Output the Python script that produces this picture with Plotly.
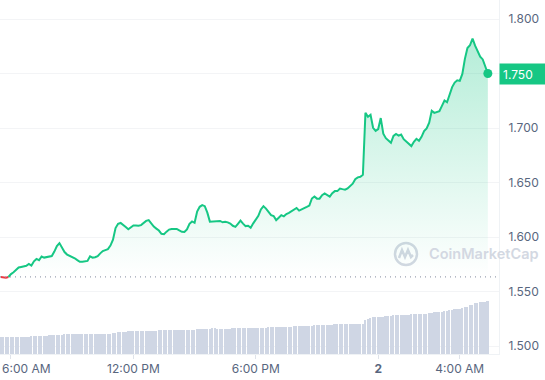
import pandas as pd
import plotly.graph_objects as go

# ---------------- data ----------------
start_time = "2024-03-01 05:30:00"
interval = "450s"  # 7.5-minute samples

price = [
    1.5633, 1.5628, 1.5626, 1.5633, 1.5660, 1.5676, 1.5694, 1.5720, 1.5725, 1.5729,
    1.5736, 1.5753, 1.5738, 1.5777, 1.5799, 1.5787, 1.5821, 1.5811, 1.5817, 1.5821,
    1.5825, 1.5866, 1.5917, 1.5944, 1.5903, 1.5862, 1.5839, 1.5828, 1.5819, 1.5805,
    1.5788, 1.5772, 1.5772, 1.5774, 1.5781, 1.5823, 1.5811, 1.5815, 1.5825, 1.5850,
    1.5871, 1.5880, 1.5889, 1.5921, 1.5976, 1.6082, 1.6121, 1.6129, 1.6114, 1.6091,
    1.6071, 1.6086, 1.6106, 1.6105, 1.6103, 1.6109, 1.6128, 1.6148, 1.6155, 1.6125,
    1.6095, 1.6077, 1.6059, 1.6029, 1.6025, 1.6049, 1.6068, 1.6074, 1.6074, 1.6074,
    1.6060, 1.6048, 1.6046, 1.6070, 1.6121, 1.6143, 1.6130, 1.6233, 1.6277, 1.6292,
    1.6283, 1.6223, 1.6141, 1.6144, 1.6144, 1.6148, 1.6147, 1.6135, 1.6140, 1.6134,
    1.6123, 1.6103, 1.6093, 1.6121, 1.6150, 1.6123, 1.6100, 1.6103, 1.6084, 1.6125,
    1.6159, 1.6194, 1.6253, 1.6283, 1.6260, 1.6233, 1.6201, 1.6193, 1.6155, 1.6177,
    1.6201, 1.6190, 1.6211, 1.6221, 1.6235, 1.6251, 1.6266, 1.6242, 1.6251, 1.6266,
    1.6276, 1.6288, 1.6353, 1.6371, 1.6352, 1.6352, 1.6384, 1.6399, 1.6386, 1.6370,
    1.6402, 1.6421, 1.6421, 1.6445, 1.6439, 1.6434, 1.6446, 1.6465, 1.6489, 1.6530,
    1.6547, 1.6553, 1.6571, 1.7139, 1.7103, 1.7121, 1.7002, 1.6974, 1.6990, 1.7091,
    1.6947, 1.6907, 1.6883, 1.6864, 1.6927, 1.6945, 1.6930, 1.6940, 1.6897, 1.6878,
    1.6858, 1.6834, 1.6874, 1.6901, 1.6883, 1.6919, 1.6972, 1.6997, 1.7048, 1.7158,
    1.7139, 1.7147, 1.7155, 1.7203, 1.7252, 1.7236, 1.7313, 1.7375, 1.7417, 1.7438,
    1.7432, 1.7496, 1.7634, 1.7734, 1.7759, 1.7821, 1.7755, 1.7701, 1.7654, 1.7629,
    1.7570, 1.7500,
]

volume = [
    17, 17, 17, 17, 17, 17, 17, 17, 17, 17, 17, 17,
    18, 18, 18, 18, 18, 18, 18,
    19, 19, 19, 19, 19, 19,
    20, 20, 20, 20, 20, 20, 20, 20, 20, 20, 20, 20, 20, 20, 20, 20, 20, 20, 20,
    21, 21,
    22, 22, 22, 22,
    23, 23, 23, 23, 23, 23, 23, 23, 23, 23, 23, 23,
    24, 24, 24, 24, 24, 24, 24, 24, 24, 24, 24, 24, 24, 24, 24,
    25, 25, 25, 25, 25, 25,
    26, 26,
    25, 25, 25, 25, 25, 25,
    26, 26, 26, 26, 26, 26, 26, 26, 26, 26, 26, 26, 26, 26,
    27, 27, 27, 27, 27, 27, 27, 27, 27, 27,
    28, 28, 28, 28, 28, 28, 28, 28,
    29, 29, 29, 29, 29, 29, 29, 29,
    30, 30, 30, 30, 30, 30, 30, 30, 30, 30, 30, 30,
    34, 35, 36,
    37, 37, 37, 37, 37,
    38, 38, 38,
    39, 39, 39, 39, 39, 39, 39,
    40, 40, 40, 40, 40, 40, 40,
    41, 41,
    42, 42, 42, 42,
    43, 43,
    44, 44,
    45, 45, 45,
    46,
    47, 47,
    49, 49,
    51, 51,
    52, 52, 52,
    53,
]

open_price = 1.5635
y_ticks = [1.500, 1.550, 1.600, 1.650, 1.700, 1.750, 1.800]
y_tick_text = ["1.500", "1.550", "1.600", "1.650", "1.700", "", "1.800"]  # 1.750 shown in the price tag
x_tick_vals = ["2024-03-01 06:00", "2024-03-01 12:00", "2024-03-01 18:00",
               "2024-03-02 00:00", "2024-03-02 04:00"]
x_tick_text = ["", "12:00 PM", "6:00 PM", "<b>2</b>", "4:00 AM"]
first_tick_label = "6:00 AM"
x_range = ["2024-03-01 05:27:40", "2024-03-02 05:55:20"]
y_range = [1.49266, 1.81743]
vol_range = [0, 354]

# ---------------- styling ----------------
GREEN = "#16c784"
RED = "#ea3943"
GREY = "#58667e"
WM = "#d3d8e2"
FONT = "Inter"

times = pd.date_range(start_time, periods=len(price), freq=interval)

# index where the price first climbs above the open
red_end = next(i for i, p in enumerate(price) if p > open_price)

fig = go.Figure()

# volume bars on a hidden overlay axis
fig.add_trace(go.Bar(
    x=times, y=volume[:len(times)], yaxis="y2",
    marker=dict(color="#cfd6e4", line=dict(width=0)),
    width=300000, hoverinfo="skip",
))

# red part (below open)
fig.add_trace(go.Scatter(
    x=times[:red_end], y=price[:red_end], mode="lines",
    line=dict(color=RED, width=2), hoverinfo="skip",
))

# baseline for the fill
g_times = times[red_end - 1:]
g_price = price[red_end - 1:]
fig.add_trace(go.Scatter(
    x=g_times, y=[open_price] * len(g_times), mode="lines",
    line=dict(width=0, color="rgba(0,0,0,0)"), hoverinfo="skip",
))

fig.add_trace(go.Scatter(
    x=g_times, y=g_price, mode="lines",
    line=dict(color=GREEN, width=2),
    fill="tonexty",
    fillgradient=dict(
        type="vertical",
        colorscale=[[0, "rgba(22,199,132,0.0)"], [1, "rgba(22,199,132,0.32)"]],
        start=open_price, stop=max(price),
    ),
    hoverinfo="skip",
))

# last price dot
fig.add_trace(go.Scatter(
    x=[times[-1]], y=[price[-1]], mode="markers",
    marker=dict(color=GREEN, size=9), hoverinfo="skip",
))

# dotted open line
fig.add_shape(type="line", xref="paper", yref="y", x0=0, x1=1,
              y0=open_price, y1=open_price,
              line=dict(color="#9aa2b1", width=1.2, dash="1px,4px"))

# watermark logo
fig.add_shape(type="circle", xref="paper", yref="paper",
              xsizemode="pixel", ysizemode="pixel",
              xanchor=0.8136, yanchor=0.2825,
              x0=-11, x1=11, y0=-11, y1=11,
              line=dict(color=WM, width=2.5), layer="below")
fig.add_shape(type="path", xref="paper", yref="paper",
              xsizemode="pixel", ysizemode="pixel",
              xanchor=0.8136, yanchor=0.2825,
              path="M -7,-4 L -4,4 L -1,-3 L 2,4 L 5,-3 L 7,-1",
              line=dict(color=WM, width=2.5), layer="below")

fig.add_annotation(text="CoinMarketCap", xref="paper", yref="paper",
                   x=0.8557, y=0.2825, xanchor="left", yanchor="middle",
                   showarrow=False,
                   font=dict(family=FONT, size=14.5, color=WM, weight=600))

# current price label
fig.add_annotation(text=f"{price[-1]:.3f}", xref="paper", yref="y",
                   x=1, y=price[-1], xanchor="left", yanchor="middle",
                   showarrow=False, bgcolor=GREEN, borderpad=3,
                   width=40, height=14, align="left",
                   font=dict(family=FONT, size=12, color="white"))

# first x label (kept inside the chart)
fig.add_annotation(text=first_tick_label, xref="paper", yref="paper",
                   x=0, y=0, xanchor="left", yanchor="top", yshift=-5,
                   showarrow=False,
                   font=dict(family=FONT, size=12, color=GREY))

fig.update_layout(
    width=545, height=380,
    margin=dict(l=0, r=46, t=0, b=26, autoexpand=False),
    paper_bgcolor="white", plot_bgcolor="white",
    showlegend=False, bargap=0,
    font=dict(family=FONT, size=12, color=GREY),
    xaxis=dict(
        type="date", range=x_range,
        tickvals=x_tick_vals, ticktext=x_tick_text,
        ticks="outside", ticklen=4, tickcolor="#dfe3ea",
        showgrid=False, zeroline=False,
        showline=True, linecolor="#eff2f5", linewidth=1,
        tickfont=dict(family=FONT, size=12, color=GREY),
        fixedrange=True,
    ),
    yaxis=dict(
        side="right", range=y_range, tickvals=y_ticks, ticktext=y_tick_text,
        showgrid=True, gridcolor="#f3f4f6", gridwidth=1,
        zeroline=False, showline=True, linecolor="#eff2f5",
        ticks="", ticklabelstandoff=6,
        tickfont=dict(family=FONT, size=12, color=GREY),
        fixedrange=True,
    ),
    yaxis2=dict(overlaying="y", range=vol_range, visible=False, fixedrange=True),
)

fig.write_html(
    "out.html",
    config={"displayModeBar": False},
    post_script="document.body.style.margin='0';document.body.style.overflow='hidden';",
)
